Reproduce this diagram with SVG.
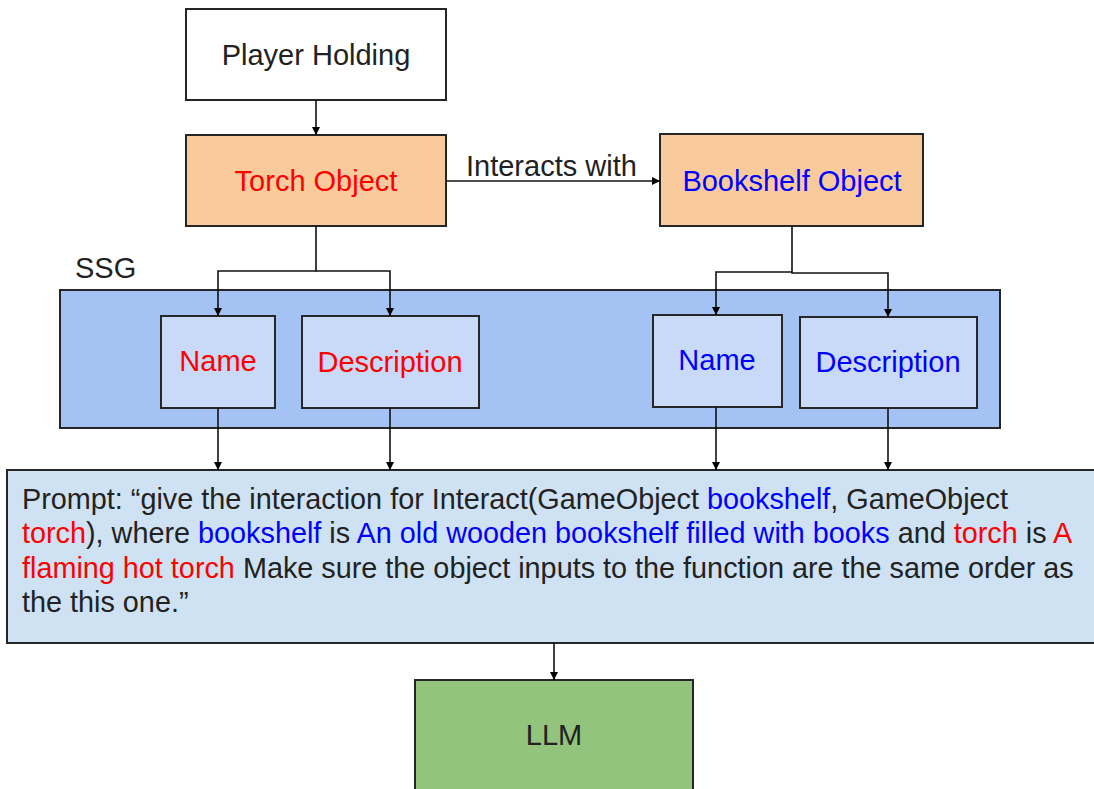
<svg xmlns="http://www.w3.org/2000/svg" width="1094" height="789" viewBox="0 0 1094 789">
  <defs>
    <marker id="arrow" viewBox="0 0 10 10" refX="10" refY="5" markerWidth="9" markerHeight="8" markerUnits="userSpaceOnUse" orient="auto">
      <path d="M0,0 L10,5 L0,10 z" fill="#000"/>
    </marker>
    <style>
      .box { stroke: #262626; stroke-width: 2; }
      .plain { fill: #ffffff; }
      .obj { fill: #f9cb9c; }
      .ssg { fill: #a4c2f4; }
      .field { fill: #c9daf8; }
      .prompt { fill: #cfe2f3; }
      .llm { fill: #93c47d; }
      text { font-family: "Liberation Sans", Arial, sans-serif; font-size: 29px; fill: #222; }
      .ptext { font-size: 28.8px; }
      .c { text-anchor: middle; }
      .red { fill: #ff0000; }
      .blue { fill: #0000ff; }
      .conn { fill: none; stroke: #111; stroke-width: 1.6; }
    </style>
  </defs>

  <rect width="1094" height="789" fill="#ffffff"/>

  <!-- SSG container -->
  <g id="ssg">
    <rect class="box ssg" x="60" y="290" width="940" height="138"/>
    <text x="75" y="278" font-size="27">SSG</text>
  </g>

  <g id="player-holding">
    <rect class="box plain" x="186" y="9" width="260" height="91"/>
    <text class="c" x="316" y="65">Player Holding</text>
  </g>

  <g id="torch-object">
    <rect class="box obj" x="186" y="135" width="260" height="91"/>
    <text class="c red" x="316" y="191">Torch Object</text>
  </g>

  <g id="bookshelf-object">
    <rect class="box obj" x="660" y="134" width="263" height="92"/>
    <text class="c blue" x="792" y="191">Bookshelf Object</text>
  </g>

  <g id="torch-name">
    <rect class="box field" x="161" y="316" width="114" height="92"/>
    <text class="c red" x="218" y="371">Name</text>
  </g>

  <g id="torch-description">
    <rect class="box field" x="302" y="316" width="177" height="92"/>
    <text class="c red" x="390" y="372">Description</text>
  </g>

  <g id="bookshelf-name">
    <rect class="box field" x="653" y="315" width="129" height="92"/>
    <text class="c blue" x="717" y="370">Name</text>
  </g>

  <g id="bookshelf-description">
    <rect class="box field" x="800" y="317" width="177" height="91"/>
    <text class="c blue" x="888" y="372">Description</text>
  </g>

  <g id="prompt">
    <rect class="box prompt" x="7" y="470" width="1095" height="173"/>
    <text class="ptext" x="22" y="509">Prompt: “give the interaction for Interact(GameObject <tspan class="blue">bookshelf</tspan>, GameObject</text>
    <text class="ptext" x="22" y="543"><tspan class="red">torch</tspan>), where <tspan class="blue">bookshelf</tspan> is <tspan class="blue">An old wooden bookshelf filled with books</tspan> and <tspan class="red">torch</tspan> is <tspan class="red">A</tspan></text>
    <text class="ptext" x="22" y="578"><tspan class="red">flaming hot torch</tspan> Make sure the object inputs to the function are the same order as</text>
    <text class="ptext" x="22" y="612">the this one.”</text>
  </g>

  <g id="llm">
    <rect class="box llm" x="415" y="680" width="278" height="120"/>
    <text class="c" x="554" y="745">LLM</text>
  </g>

  <!-- connectors -->
  <g id="connectors">
    <path class="conn" d="M316,100 V135" marker-end="url(#arrow)"/>
    <path class="conn" d="M446,181 H660" marker-end="url(#arrow)"/>
    <text x="466" y="176">Interacts with</text>

    <path class="conn" d="M316,226 V271 H218 V316" marker-end="url(#arrow)"/>
    <path class="conn" d="M316,271 H390 V316" marker-end="url(#arrow)"/>
    <path class="conn" d="M792,226 V272 H716 V315" marker-end="url(#arrow)"/>
    <path class="conn" d="M792,272 V273 H888 V317" marker-end="url(#arrow)"/>

    <path class="conn" d="M218,408 V470" marker-end="url(#arrow)"/>
    <path class="conn" d="M390,408 V470" marker-end="url(#arrow)"/>
    <path class="conn" d="M716,407 V470" marker-end="url(#arrow)"/>
    <path class="conn" d="M888,408 V470" marker-end="url(#arrow)"/>

    <path class="conn" d="M554,643 V680" marker-end="url(#arrow)"/>
  </g>
</svg>
